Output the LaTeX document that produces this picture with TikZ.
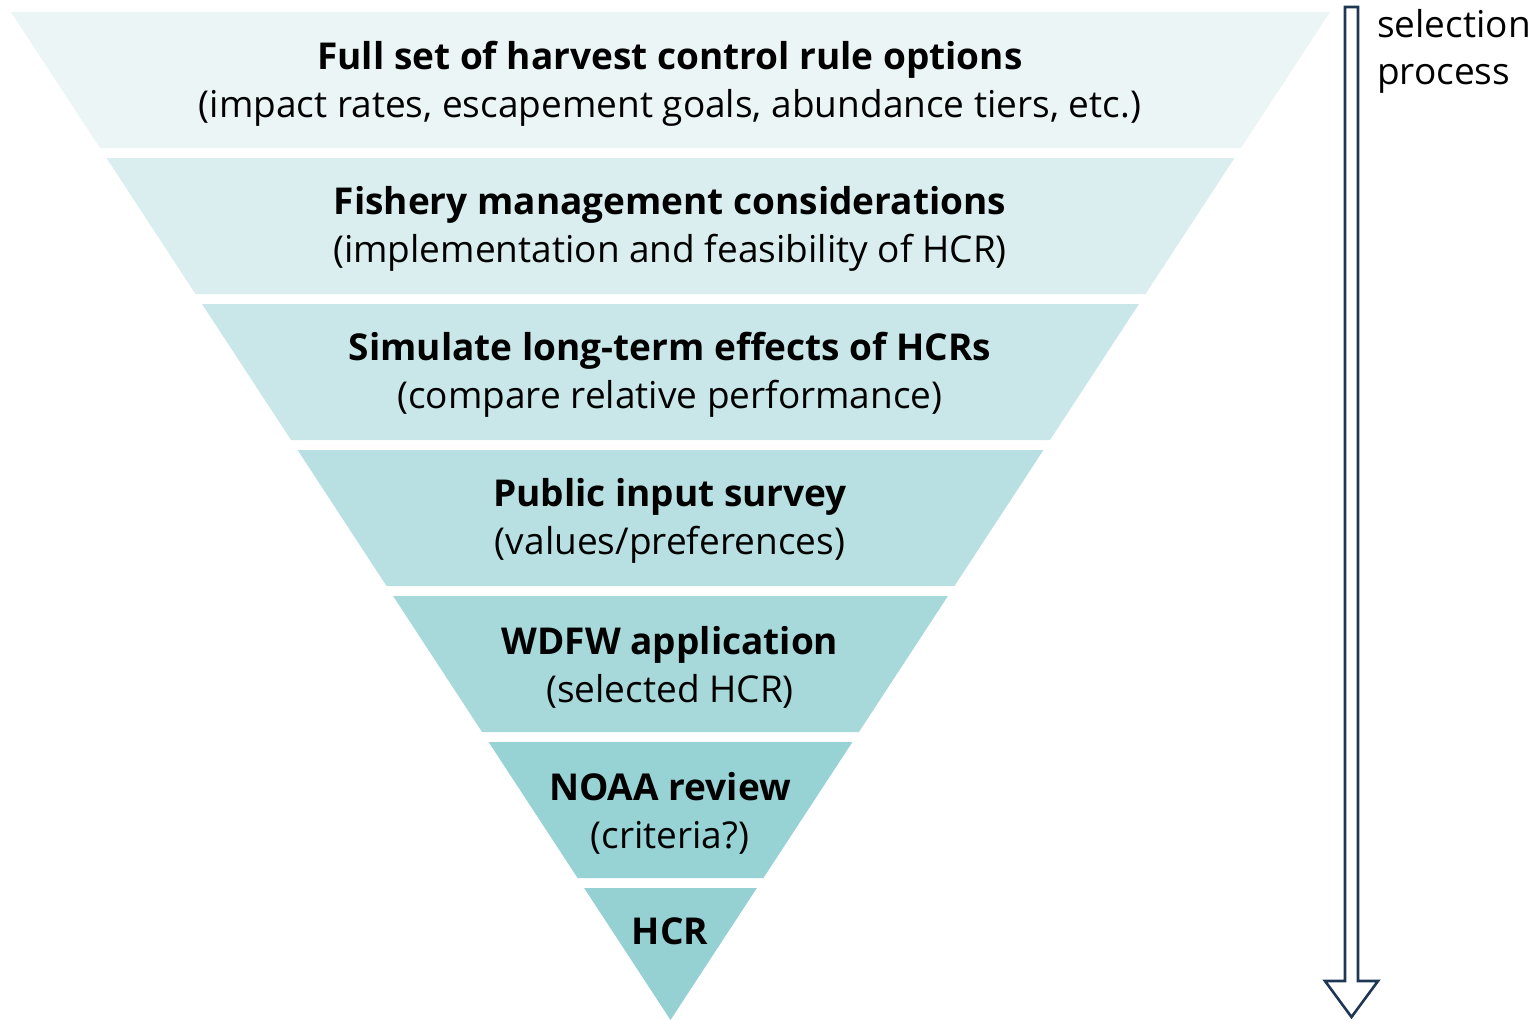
\documentclass[tikz,border=0pt]{standalone}
\usepackage{fontspec}
\setmainfont{Open Sans}
\definecolor{bandA}{RGB}{235,245,246}
\definecolor{bandB}{RGB}{218,238,239}
\definecolor{bandC}{RGB}{201,231,233}
\definecolor{bandD}{RGB}{184,224,226}
\definecolor{bandE}{RGB}{167,217,219}
\definecolor{bandF}{RGB}{151,210,212}
\definecolor{bandG}{RGB}{149,209,211}
\definecolor{arrowc}{RGB}{30,55,85}
\tikzset{
  lbl/.style={align=center, inner sep=0pt, font=\fontsize{37}{48}\selectfont},
  side/.style={align=left, anchor=north west, inner sep=0pt, font=\fontsize{37}{47}\selectfont},
}
\begin{document}
\begin{tikzpicture}[x=1pt,y=-1pt]
\useasboundingbox (0,0) rectangle (1537,1020);
% bands
\foreach \i/\c in {0/bandA,1/bandB,2/bandC,3/bandD,4/bandE,5/bandF}{
  \pgfmathsetmacro{\ty}{12+146*\i}
  \pgfmathsetmacro{\by}{\ty+136}
  \pgfmathsetmacro{\tl}{670.5-0.6543*(1020-\ty)}
  \pgfmathsetmacro{\tr}{670.5+0.6543*(1020-\ty)}
  \pgfmathsetmacro{\bl}{670.5-0.6543*(1020-\by)}
  \pgfmathsetmacro{\br}{670.5+0.6543*(1020-\by)}
  \fill[\c] (\tl,\ty) -- (\tr,\ty) -- (\br,\by) -- (\bl,\by) -- cycle;
}
\pgfmathsetmacro{\ty}{12+146*6}
\pgfmathsetmacro{\tl}{670.5-0.6543*(1020-\ty)}
\pgfmathsetmacro{\tr}{670.5+0.6543*(1020-\ty)}
\fill[bandG] (\tl,\ty) -- (\tr,\ty) -- (670.5,1020) -- cycle;
% labels
\node[lbl] (b1) at (670,84) {\textbf{Full set of harvest control rule options}\\(impact rates, escapement goals, abundance tiers, etc.)};
\node[lbl] (b2) at (670,229) {\textbf{Fishery management considerations}\\(implementation and feasibility of HCR)};
\node[lbl] (b3) at (670,375) {\textbf{Simulate long-term effects of HCRs}\\(compare relative performance)};
\node[lbl] (b4) at (670,521) {\textbf{Public input survey}\\(values/preferences)};
\node[lbl] (b5) at (670,667) {\textbf{WDFW application}\\(selected HCR)};
\node[lbl] (b6) at (670,813) {\textbf{NOAA review}\\(criteria?)};
\node[lbl] (b7) at (670,931) {\textbf{HCR}};
% arrow
\coordinate (ab) at (1351.5,1017);
\draw[arrowc, line width=2.6pt, line join=miter]
  (1345,7) -- (1358,7) -- (1358,981) -- (1378,981) -- (ab) -- (1325,981) -- (1345,981) -- cycle;
\node[side] (sel) at (1377,9) {selection\\process};
\end{tikzpicture}
\end{document}
